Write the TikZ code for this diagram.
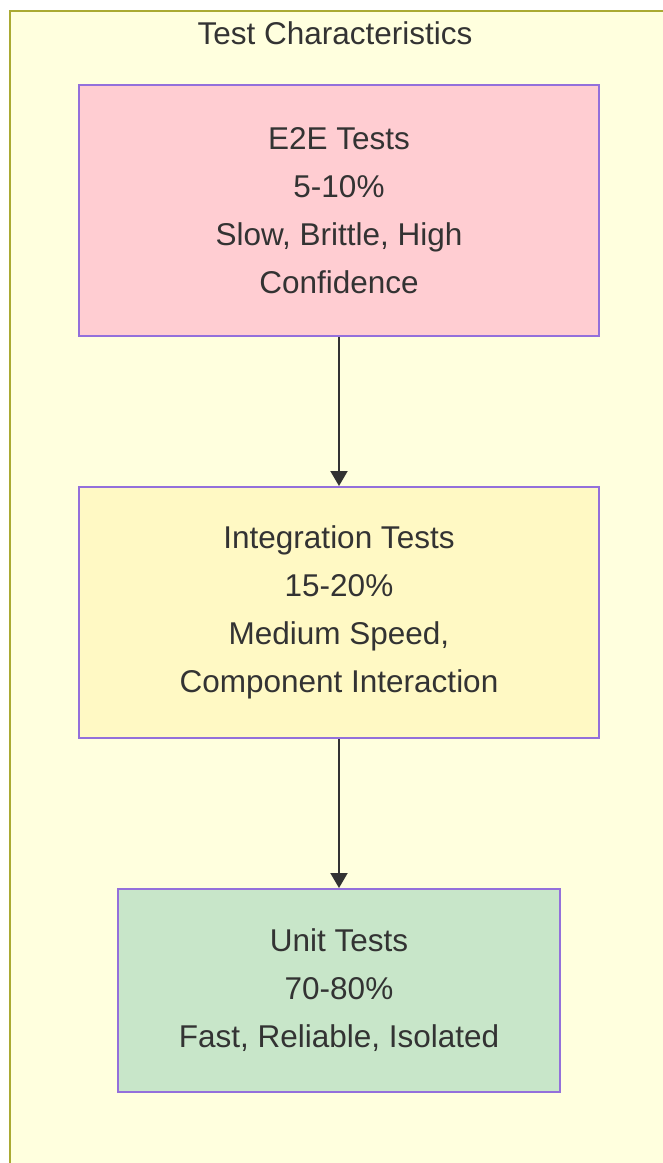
\documentclass[tikz,border=0pt]{standalone}
\usepackage{fontspec}
\setmainfont{Liberation Sans}
\usetikzlibrary{positioning, arrows.meta}
\definecolor{groupfill}{HTML}{FFFFDE}
\definecolor{groupline}{HTML}{AAAA33}
\definecolor{boxline}{HTML}{9370DB}
\definecolor{textgray}{HTML}{333333}
\definecolor{e2efill}{HTML}{FFCDD2}
\definecolor{intfill}{HTML}{FFF9C4}
\definecolor{unitfill}{HTML}{C8E6C9}
\tikzset{
  pyramid/.style={
	x=1pt, y=-1pt,
	node distance=149pt, % gap between two levels
	font=\fontsize{31.5}{48}\selectfont, % text size of every level
	every node/.style={text=textgray},
  },
  level/.style={draw=boxline, line width=2pt, align=center, minimum width=520pt, minimum height=251pt},
  flow/.style={-{Triangle[width=17pt,length=15pt]}, draw=textgray, line width=2pt},
}

\begin{document}
\begin{tikzpicture}[pyramid]
	  \useasboundingbox (0,0) rectangle (662,1163);
	  % the group frame runs off the page at right and bottom
	  \fill[groupfill] (9.5,10.5) rectangle (700,1200);
	  \draw[groupline, line width=2pt] (700,10.5) -- (9.5,10.5) -- (9.5,1200);
	  \node (title) at (335,33) {Test Characteristics};

	  \node[level, fill=e2efill] (e2e) at (339,210.5) {E2E Tests\\5-10\%\\Slow, Brittle, High\\Confidence};
	  \node[level, fill=intfill, below=of e2e] (integration) {Integration Tests\\15-20\%\\Medium Speed,\\Component Interaction};
	  \node[level, fill=unitfill, below=of integration, minimum width=442pt, minimum height=203pt] (unit) {Unit Tests\\70-80\%\\Fast, Reliable, Isolated};

	  \draw[flow] (e2e) -- (integration);
	  \draw[flow] (integration) -- (unit);
\end{tikzpicture}
\end{document}
